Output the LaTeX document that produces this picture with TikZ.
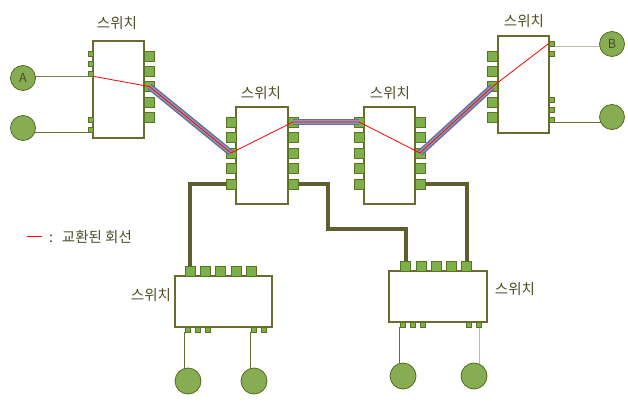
\documentclass[tikz,border=0pt]{standalone}
\usepackage{fontspec}
\setmainfont{Noto Sans CJK KR}
\definecolor{boxc}{HTML}{6B6B30}
\definecolor{portc}{HTML}{7DB04A}
\definecolor{portd}{HTML}{5A7224}
\definecolor{circc}{HTML}{86AD52}
\definecolor{circd}{HTML}{566A20}
\definecolor{linkc}{HTML}{5E5E2E}
\definecolor{bandd}{HTML}{64719A}
\definecolor{bandl}{HTML}{8E9AB4}
\definecolor{txtc}{HTML}{4D4D26}
\definecolor{lgray}{HTML}{BDBDA6}
\definecolor{mgray}{HTML}{7C7C52}
\pgfdeclarelayer{bg}
\pgfdeclarelayer{fg}
\pgfsetlayers{bg,main,fg}
\begin{document}
\begin{tikzpicture}[x=1pt,y=-1pt,
  swbox/.style={draw=boxc,fill=white,line width=1.3pt,inner sep=0pt},
  bp/.style={draw=portd,fill=portc,line width=0.6pt,minimum size=10pt,inner sep=0pt},
  sp/.style={draw=portd,fill=portc,line width=0.6pt,minimum size=5pt,inner sep=0pt},
  host/.style={circle,draw=circd,fill=circc,line width=0.8pt,minimum size=25pt,inner sep=0pt,text=txtc,font=\fontsize{12.5}{12.5}\selectfont},
  lbl/.style={text=txtc,font=\fontsize{14.5}{15}\selectfont,inner sep=0pt},
  thicklink/.style={draw=linkc,line width=4.2pt},
  wire/.style={line width=1.3pt},
  redl/.style={draw=red,line width=0.8pt,line join=round},
  band/.style={line width=6.5pt,draw=bandd},
  bandin/.style={line width=3.5pt,draw=bandl}]
\useasboundingbox (0,0) rectangle (628,404);

% switch boxes
\node[swbox,minimum width=51pt,minimum height=97pt] (sw1) at (118.5,89.5) {};
\node[swbox,minimum width=52pt,minimum height=97pt] (sw2) at (262,155.5) {};
\node[swbox,minimum width=51pt,minimum height=97pt] (sw3) at (389.5,155.5) {};
\node[swbox,minimum width=51pt,minimum height=97pt] (sw4) at (523.5,84.5) {};
\node[swbox,minimum width=97pt,minimum height=51pt] (sw5) at (223.5,301.5) {};
\node[swbox,minimum width=98pt,minimum height=51pt] (sw6) at (438,296.5) {};

% labels
\node[lbl] (t1) at (117,23) {스위치};
\node[lbl] (t2) at (261,93) {스위치};
\node[lbl] (t3) at (390,93) {스위치};
\node[lbl] (t4) at (524,21) {스위치};
\node[lbl] (t5) at (151,295) {스위치};
\node[lbl] (t6) at (515,289) {스위치};

% ports switch 1
\foreach \i/\y in {1/53.5,2/63.5,3/73.5,4/119.5,5/129.5} \node[sp] (s1l\i) at (90.5,\y) {};
\foreach \i/\y in {1/56,2/71.3,3/86.6,4/101.9,5/117.2} \node[bp] (s1r\i) at (149.5,\y) {};
% ports switch 2 and 3
\foreach \i/\y in {1/122,2/137.5,3/153,4/168.5,5/184} {
  \node[bp] (s2l\i) at (231,\y) {};
  \node[bp] (s2r\i) at (293,\y) {};
  \node[bp] (s3l\i) at (359,\y) {};
  \node[bp] (s3r\i) at (420,\y) {};
}
% ports switch 4
\foreach \i/\y in {1/56,2/71.3,3/86.6,4/101.9,5/117.2} \node[bp] (s4l\i) at (492.5,\y) {};
\foreach \i/\y in {1/43.5,2/53.5,3/99.5,4/109.5,5/119.5} \node[sp] (s4r\i) at (551.5,\y) {};
% ports switch 5
\foreach \i/\x in {1/190,2/205.3,3/220.7,4/236,5/251.7} \node[bp] (s5t\i) at (\x,271) {};
\foreach \i/\x in {1/187.5,2/197.5,3/208.2,4/253.5,5/264.2} \node[sp] (s5b\i) at (\x,329.5) {};
% ports switch 6
\foreach \i/\x in {1/405.7,2/421,3/436.3,4/451.7,5/466.7} \node[bp] (s6t\i) at (\x,266) {};
\foreach \i/\x in {1/402.5,2/412.5,3/423.2,4/469.2,5/479.2} \node[sp] (s6b\i) at (\x,324.5) {};

% hosts
\node[host] (hA) at (23,78) {A};
\node[host] (h2) at (23,128) {};
\node[host] (hB) at (612,44) {B};
\node[host] (h4) at (612,117) {};
\node[host,minimum size=26pt] (h5) at (188,381) {};
\node[host,minimum size=26pt] (h6) at (254,381) {};
\node[host,minimum size=26pt] (h7) at (403,376) {};
\node[host,minimum size=26pt] (h8) at (474,376) {};

\coordinate (k1) at (328,229);

\begin{pgfonlayer}{bg}
  % host wires
  \draw[wire,mgray] (s1l3.south west) -- (hA.center |- s1l3.south west);
  \draw[wire,boxc] (s1l5.south west) -- (h2.center |- s1l5.south west);
  \draw[wire,lgray] (s4r1.south east) -- (hB.center |- s4r1.south east);
  \draw[wire,boxc] (s4r5.south east) -- (h4.center |- s4r5.south east);
  \draw[wire,boxc] (s5b1.south west) -- (s5b1.south west |- h5.center);
  \draw[wire,boxc] (s5b4.south west) -- (s5b4.south west |- h6.center);
  \draw[wire,boxc] (s6b1.south west) -- (s6b1.south west |- h7.center);
  \draw[wire,lgray] (s6b5.south) -- (s6b5.south |- h8.center);
  % thick links
  \draw[thicklink] (s2l5.center) -| (s5t1.center);
  \draw[thicklink] (s2r5.center) -| (k1) -| (s6t1.center);
  \draw[thicklink] (s3r5.center) -| (s6t5.center);
\end{pgfonlayer}

\begin{pgfonlayer}{fg}
  % trunk bands
  \draw[band] (s1r3.center) -- (s2l3.center);
  \draw[band] (s2r1.center) -- (s3l1.center);
  \draw[band] (s3r3.center) -- (s4l3.center);
  \draw[bandin] (s1r3.center) -- (s2l3.center);
  \draw[bandin] (s2r1.center) -- (s3l1.center);
  \draw[bandin] (s3r3.center) -- (s4l3.center);
  % switched circuit
  \draw[redl] (s1l3.south east) -- (s1r3.center) -- (s2l3.center) -- (s2r1.center)
    -- (s3l1.center) -- (s3r3.center) -- (s4l3.center) -- (s4r1.west);
\end{pgfonlayer}

% legend
\coordinate (lg1) at (27,236);
\coordinate (lg2) at (42,236);
\draw[red,line width=0.9pt] (lg1) -- (lg2);
\node[lbl,anchor=west] (lgt) at (49,237) {:\hspace{0.6em}교환된 회선};
\end{tikzpicture}
\end{document}
